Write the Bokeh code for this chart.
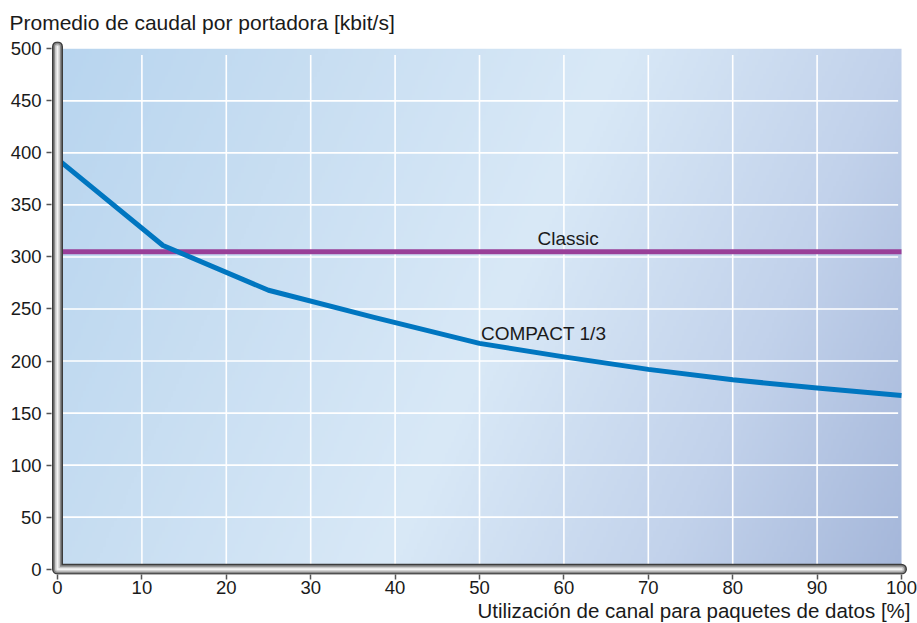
import numpy as np
from bokeh.plotting import figure
from bokeh.models import Range1d, Label, FixedTicker, Title
from bokeh.embed import file_html
from bokeh.resources import INLINE

# ---- data ----
load_pct = [0, 12.5, 25, 37.5, 50, 60, 70, 80, 90, 100]
compact_kbit = [394, 311, 268, 242, 217, 204, 192, 182, 174, 167]
classic_x = [0, 100]
classic_kbit = [305, 305]
x_ticks = [0, 10, 20, 30, 40, 50, 60, 70, 80, 90, 100]
y_ticks = [0, 50, 100, 150, 200, 250, 300, 350, 400, 450, 500]
title_text = "Promedio de caudal por portadora [kbit/s]"
xlabel_text = "Utilización de canal para paquetes de datos [%]"
classic_label = "Classic"
compact_label = "COMPACT 1/3"

X_MIN, X_MAX = x_ticks[0], x_ticks[-1]
Y_MIN, Y_MAX = y_ticks[0], y_ticks[-1]

FONT = "Liberation Sans"
TXT = "#1a1a1a"

p = figure(width=917, height=623,
           x_range=Range1d(-0.711, 100.71), y_range=Range1d(-5.08, 507.0),
           output_backend="svg", toolbar_location=None,
           min_border_left=51, min_border_right=10,
           min_border_top=40, min_border_bottom=49)
p.outline_line_color = None
p.background_fill_color = "white"
p.border_fill_color = "white"
p.grid.visible = False

# title
p.title.text = title_text
p.title.text_font = FONT
p.title.text_font_size = "21px"
p.title.text_font_style = "normal"
p.title.text_color = TXT
p.title.align = "left"
p.title.offset = -42
p.title.standoff = 16

# axes
for ax in (p.xaxis[0], p.yaxis[0]):
    ax.axis_line_color = None
    ax.major_tick_line_color = "#555555"
    ax.major_tick_line_width = 1.5
    ax.major_tick_out = 5
    ax.major_tick_in = 0
    ax.minor_tick_line_color = None
    ax.major_label_text_font = FONT
    ax.major_label_text_font_size = "18.5px"
    ax.major_label_text_color = TXT
p.xaxis.ticker = FixedTicker(ticks=x_ticks)
p.yaxis.ticker = FixedTicker(ticks=y_ticks)
p.xaxis.major_label_standoff = 1
p.yaxis.major_label_standoff = 5

# x-axis title, right-aligned below the tick labels
p.add_layout(Title(text=xlabel_text, align="right", text_font=FONT,
                   text_font_size="20.5px", text_font_style="normal",
                   text_color=TXT, standoff=0, offset=-3), "below")

# background gradient (style only)
ny, nx = 180, 300
u = np.linspace(0, 1, nx)[None, :]
v = np.linspace(0, 1, ny)[:, None]
t = (510 * 844 * u + 230 * 521 * (1 - v)) / (510 * 844 + 230 * 521)
stops = np.array([0.0, 0.25, 0.52, 0.78, 1.0])
cols = np.array([[184, 213, 239], [200, 222, 242], [217, 233, 247],
                 [194, 210, 235], [165, 183, 218]], dtype=float)
img = np.zeros((ny, nx), dtype=np.uint32)
view = img.view(dtype=np.uint8).reshape((ny, nx, 4))
for c in range(3):
    view[:, :, c] = np.interp(t, stops, cols[:, c]).astype(np.uint8)
view[:, :, 3] = 255
p.image_rgba(image=[img], x=X_MIN, y=Y_MIN, dw=X_MAX - X_MIN, dh=Y_MAX - Y_MIN)

# grid lines (white), within the data area
gx = x_ticks[1:-1]
gy = y_ticks[1:-1]
p.segment(x0=gx, y0=[Y_MIN] * len(gx), x1=gx, y1=[Y_MAX - 6] * len(gx),
          line_color="white", line_width=1.6)
p.segment(x0=[X_MIN] * len(gy), y0=gy, x1=[X_MAX - 0.4] * len(gy), y1=gy,
          line_color="white", line_width=1.6)

# data lines
p.line(classic_x, classic_kbit, line_color="#993f98", line_width=5)
p.line(load_pct, compact_kbit, line_color="#0076c0", line_width=5,
       line_join="round")

# tube-like axes
tube_x = [X_MIN, X_MIN, X_MAX]
tube_y = [Y_MAX + 2, Y_MIN, Y_MIN]
for col, w in (("#3c3c3c", 11), ("#8a8a8a", 8), ("#c8c8c8", 5), ("#f4f4f4", 2)):
    p.line(tube_x, tube_y, line_color=col, line_width=w,
           line_cap="round", line_join="round")

# series labels
p.add_layout(Label(x=60.5, y=318, text=classic_label, text_align="center",
                   text_baseline="middle", text_font=FONT,
                   text_font_size="19px", text_color=TXT))
p.add_layout(Label(x=57.6, y=226, text=compact_label, text_align="center",
                   text_baseline="middle", text_font=FONT,
                   text_font_size="19px", text_color=TXT))

open("out.html", "w").write(file_html(p, INLINE))
